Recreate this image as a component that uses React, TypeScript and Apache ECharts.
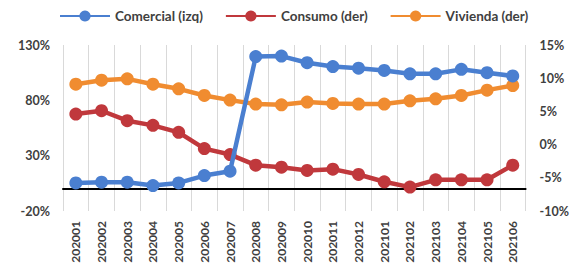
import React, { useEffect, useRef } from "react";
import * as echarts from "echarts";

const categories = [
  "202001", "202002", "202003", "202004", "202005", "202006", "202007", "202008", "202009",
  "202010", "202011", "202012", "202101", "202102", "202103", "202104", "202105", "202106",
];
const comercial = [5.4, 6, 6, 3, 5.4, 12, 16, 119.5, 120, 114, 110.5, 109, 107, 104, 104, 108, 105, 102];
const consumo = [4.6, 5.1, 3.6, 2.9, 1.85, -0.6, -1.5, -3.1, -3.4, -3.9, -3.7, -4.5, -5.6, -6.4, -5.3, -5.3, -5.3, -3.1];
const vivienda = [9.1, 9.7, 9.9, 9.1, 8.4, 7.4, 6.7, 6.1, 6.0, 6.4, 6.2, 6.1, 6.1, 6.6, 6.9, 7.4, 8.2, 8.9];

const FONT = "Lato";
const TXT = "#404040";

export default function App() {
  const ref = useRef<HTMLDivElement>(null);
  useEffect(() => {
    const chart = echarts.init(ref.current!, null, { renderer: "svg" });
    const lineSeries = (name: string, data: number[], color: string, yAxisIndex: number) => ({
      name,
      type: "line",
      data,
      yAxisIndex,
      symbol: "circle",
      symbolSize: 13,
      lineStyle: { color, width: 4.5 },
      itemStyle: { color },
      z: yAxisIndex === 0 ? 5 : 3,
    });
    chart.setOption({
      animation: false,
      backgroundColor: "#ffffff",
      legend: {
        top: 4,
        left: 54,
        itemGap: 22,
        itemWidth: 50,
        itemHeight: 14,
        textStyle: { fontFamily: FONT, fontWeight: "bold", fontSize: 13.5, color: TXT },
      },
      grid: { left: 63, right: 43, top: 45, bottom: 55 },
      xAxis: {
        type: "category",
        data: categories,
        boundaryGap: true,
        axisLine: { show: true, onZero: true, onZeroAxisIndex: 0, lineStyle: { color: "#000", width: 2 } },
        axisTick: { show: false },
        splitLine: { show: true, lineStyle: { color: "#d9d9d9", width: 1 } },
        axisLabel: {
          rotate: 90,
          margin: 10,
          interval: 0,
          fontFamily: FONT,
          fontWeight: "bold",
          fontSize: 12,
          color: TXT,
        },
      },
      yAxis: [
        {
          type: "value",
          min: -20,
          max: 130,
          interval: 50,
          axisLine: { show: false },
          axisTick: { show: false },
          splitLine: { show: false },
          axisLabel: {
            formatter: "{value}%",
            margin: 13,
            fontFamily: FONT,
            fontWeight: "bold",
            fontSize: 12.5,
            color: TXT,
          },
        },
        {
          type: "value",
          min: -10,
          max: 15,
          interval: 5,
          position: "right",
          axisLine: { show: false },
          axisTick: { show: false },
          splitLine: { show: false },
          axisLabel: {
            formatter: "{value}%",
            margin: 14,
            fontFamily: FONT,
            fontWeight: "bold",
            fontSize: 12.5,
            color: TXT,
          },
        },
      ],
      series: [
        lineSeries("Comercial (izq)", comercial, "#4a7fd0", 0),
        lineSeries("Consumo (der)", consumo, "#c0383c", 1),
        lineSeries("Vivienda (der)", vivienda, "#f08c30", 1),
      ],
    });
    return () => chart.dispose();
  }, []);
  return <div ref={ref} style={{ width: 572, height: 266, position: "absolute", left: 0, top: 0 }} />;
}
